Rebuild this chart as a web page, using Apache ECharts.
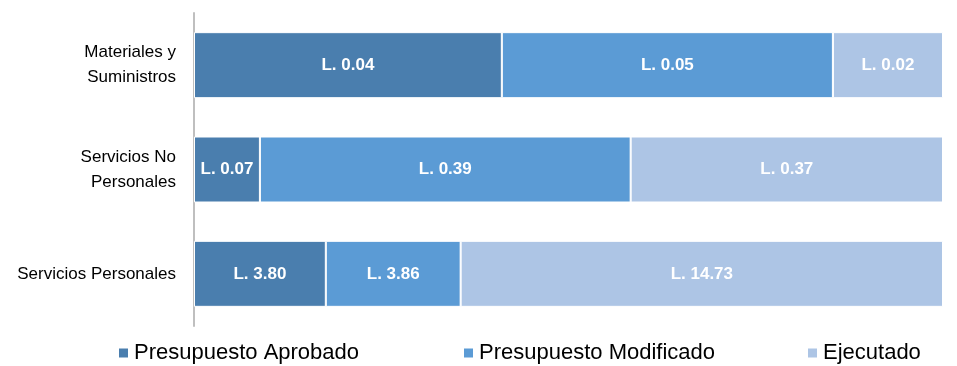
<!DOCTYPE html>
<html>
<head>
<meta charset="utf-8">
<script src="https://cdn.jsdelivr.net/npm/echarts@6/dist/echarts.min.js"></script>
<style>
  html, body { margin: 0; padding: 0; background: #fff; }
  #chart { width: 957px; height: 366px; }
</style>
</head>
<body>
<div id="chart"></div>
<script>
// categories, bottom to top
const categories = ["Servicios Personales", "Servicios No\nPersonales", "Materiales y\nSuministros"]
const seriesNames = ["Presupuesto Aprobado", "Presupuesto Modificado", "Ejecutado"]

// amounts shown on the labels (millions of L.)
const aprobado = [3.80, 0.07, 0.04]
const modificado = [3.86, 0.39, 0.05]
const ejecutado = [14.73, 0.37, 0.02]

// share of each bar (%)
const aprobadoShare = [17.6, 8.8, 41.1]
const modificadoShare = [18.0, 49.5, 44.2]
const ejecutadoShare = [64.4, 41.7, 14.7]

const colors = ["#4a7eae", "#5b9bd5", "#adc5e5"]
const font = "'Liberation Sans Narrow', 'Liberation Sans', Arial, sans-serif"

function makeSeries(name, shares, amounts, color) {
  return {
    name: name,
    type: "bar",
    stack: "total",
    barWidth: 66,
    itemStyle: { color: color, borderColor: "#fff", borderWidth: 1 },
    label: {
      show: true,
      position: "inside",
      color: "#fff",
      fontWeight: "bold",
      fontSize: 17,
      fontFamily: font,
      formatter: (p) => "L. " + amounts[p.dataIndex].toFixed(2)
    },
    data: shares
  }
}

const legendPos = [117, 462, 806]

const option = {
  animation: false,
  color: colors,
  grid: { left: 194, right: 14, top: 13, bottom: 40 },
  legend: seriesNames.map((n, i) => ({
    data: [n],
    left: legendPos[i],
    top: 342,
    padding: 0,
    icon: "rect",
    itemWidth: 11,
    itemHeight: 11,
    itemGap: 7,
    textStyle: { fontSize: 22, fontFamily: font, color: "#000" }
  })),
  xAxis: {
    type: "value",
    min: 0,
    max: 100,
    show: false
  },
  yAxis: {
    type: "category",
    data: categories,
    axisLine: { lineStyle: { color: "#bfbfbf", width: 2 } },
    axisTick: { show: false },
    axisLabel: {
      color: "#000",
      fontSize: 17,
      fontFamily: font,
      lineHeight: 25,
      margin: 18,
      align: "right"
    }
  },
  series: [
    makeSeries(seriesNames[0], aprobadoShare, aprobado, colors[0]),
    makeSeries(seriesNames[1], modificadoShare, modificado, colors[1]),
    makeSeries(seriesNames[2], ejecutadoShare, ejecutado, colors[2])
  ]
}

echarts.init(document.getElementById("chart")).setOption(option)
</script>
</body>
</html>
